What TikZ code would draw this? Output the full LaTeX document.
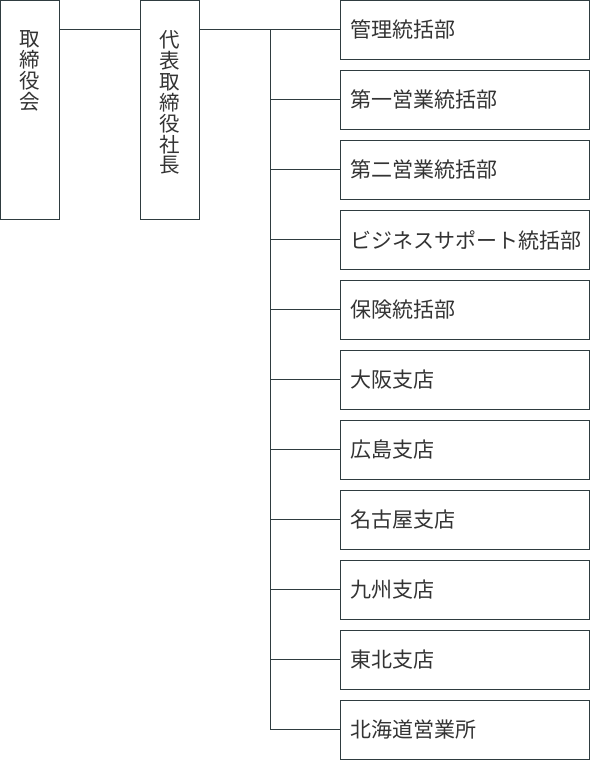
\documentclass[tikz,border=0pt]{standalone}
\usepackage{fontspec}
\setmainfont{Noto Sans CJK JP}
\newfontfamily\vfont{Noto Sans CJK JP}
\definecolor{ln}{HTML}{2F3C40}
\definecolor{tx}{HTML}{333333}
\begin{document}
\begin{tikzpicture}[x=1pt,y=-1pt,
  dept/.style={draw=ln, line width=1pt, rectangle, anchor=north west, outer sep=0pt,
    minimum width=249pt, minimum height=59pt, text width=229pt,
    inner xsep=10pt, inner ysep=0pt, align=left,
    font=\fontsize{21}{22}\selectfont, text=tx},
  vbox/.style={draw=ln, line width=1pt, rectangle, anchor=north west, outer sep=0pt,
    minimum width=59pt, minimum height=219pt, inner sep=0pt, text=tx},
  conn/.style={draw=ln, line width=1pt}]
\useasboundingbox (0,0) rectangle (590,760);
\newcommand{\vtext}[1]{\parbox[t][219pt][t]{59pt}{\centering\vfont\fontsize{20.5}{20.9}\selectfont\lineskiplimit=-20pt\vspace*{30pt}#1\par}}
\node[vbox] (board) at (0.5,0.5) {\vtext{取\\締\\役\\会}};
\node[vbox] (ceo) at (140.5,0.5) {\vtext{代\\表\\取\\締\\役\\社\\長}};
\foreach \i/\t in {1/管理統括部,2/第一営業統括部,3/第二営業統括部,4/ビジネスサポート統括部,5/保険統括部,6/大阪支店,7/広島支店,8/名古屋支店,9/九州支店,10/東北支店,11/北海道営業所}{
  \node[dept] (d\i) at (340.5,{0.5+70*(\i-1)}) {\t};
}
\coordinate (tx) at (270.5,0);
\draw[conn] ([yshift=0.5pt]board.east |- d1.west) -- ([yshift=0.5pt]ceo.west |- d1.west);
\draw[conn] ([yshift=0.5pt]ceo.east |- d1.west) -- ([yshift=0.5pt]d1.west);
\draw[conn] ([yshift=0.5pt]tx |- d1.west) -- ([yshift=0.5pt]tx |- d11.west);
\foreach \i in {2,...,11}{
  \draw[conn] ([yshift=0.5pt]tx |- d\i.west) -- ([yshift=0.5pt]d\i.west);
}
\end{tikzpicture}
\end{document}
